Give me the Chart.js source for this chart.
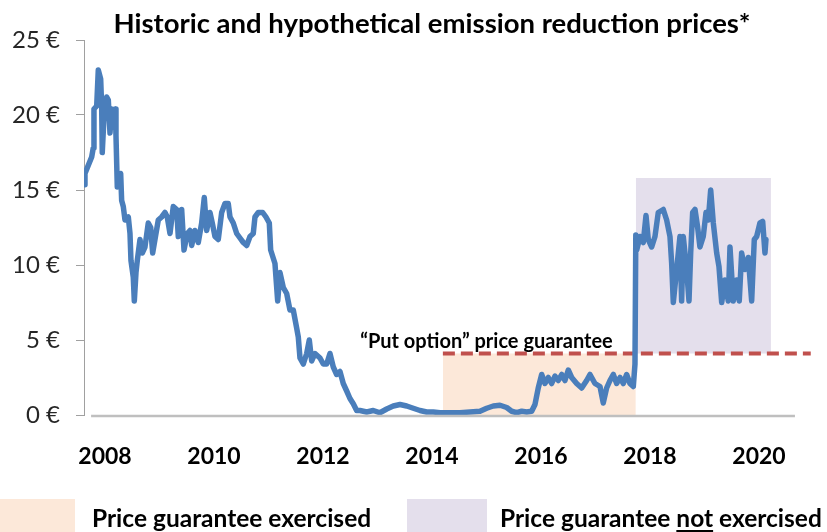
<!DOCTYPE html>
<html>
<head>
<meta charset="utf-8">
<script src="https://cdn.jsdelivr.net/npm/chart.js@4.4.1/dist/chart.umd.min.js"></script>
<style>
html,body{margin:0;padding:0;background:#fff;overflow:hidden;}
#wrap{position:relative;width:827px;height:532px;font-family:Lato,"Open Sans",sans-serif;}
#chart{position:absolute;left:0;top:0;}
#title{position:absolute;left:82px;top:9px;width:700px;text-align:center;font-weight:bold;font-size:27.5px;line-height:1;color:#000;white-space:nowrap;}
.lbox{position:absolute;top:499px;height:33px;}
.ltxt{position:absolute;top:506px;font-weight:bold;font-size:24.5px;line-height:1;color:#000;white-space:nowrap;}
.ltxt u{text-decoration-thickness:2px;text-underline-offset:3px;}
</style>
</head>
<body>
<div id="wrap">
  <canvas id="chart" width="827" height="532"></canvas>
  <div id="title">Historic and hypothetical emission reduction prices*</div>
  <div class="lbox" style="left:0;width:75px;background:#FCE8D9;"></div>
  <div class="ltxt" style="left:92px;">Price guarantee exercised</div>
  <div class="lbox" style="left:407px;width:80px;background:#E4DFEC;"></div>
  <div class="ltxt" style="left:500px;">Price guarantee <u>not</u> exercised</div>
</div>
<script>
// ---- data ----
const dates = [
 2007.615,2007.633,2007.756,2007.785,2007.798,2007.848,2007.877,2007.921,2007.939,2007.950,
 2007.982,2008.031,2008.061,2008.092,2008.123,2008.152,2008.189,2008.202,2008.226,2008.288,
 2008.306,2008.336,2008.367,2008.428,2008.459,2008.477,2008.519,2008.538,2008.569,2008.593,
 2008.642,2008.684,2008.734,2008.794,2008.839,2008.875,2008.917,2008.978,2009.040,2009.101,
 2009.143,2009.193,2009.253,2009.316,2009.345,2009.395,2009.407,2009.450,2009.510,2009.560,
 2009.591,2009.651,2009.712,2009.774,2009.822,2009.866,2009.927,2009.969,2010.018,2010.079,
 2010.141,2010.202,2010.262,2010.294,2010.354,2010.417,2010.477,2010.538,2010.600,2010.661,
 2010.721,2010.752,2010.813,2010.894,2010.954,2011.015,2011.040,2011.119,2011.169,2011.211,
 2011.272,2011.334,2011.394,2011.455,2011.517,2011.547,2011.578,2011.639,2011.701,2011.749,
 2011.793,2011.853,2011.945,2012.006,2012.068,2012.128,2012.189,2012.251,2012.312,2012.372,
 2012.435,2012.495,2012.556,2012.618,2012.679,2012.802,2012.923,2013.046,2013.169,2013.290,
 2013.413,2013.536,2013.657,2013.780,2013.903,2014.024,2014.147,2014.330,2014.514,2014.697,
 2014.881,2015.004,2015.125,2015.248,2015.371,2015.462,2015.554,2015.646,2015.738,2015.829,
 2015.890,2015.950,2016.013,2016.073,2016.134,2016.196,2016.257,2016.317,2016.380,2016.440,
 2016.501,2016.563,2016.655,2016.747,2016.838,2016.899,2016.991,2017.083,2017.143,2017.205,
 2017.266,2017.327,2017.389,2017.450,2017.510,2017.572,2017.633,2017.694,2017.725,2017.740,
 2017.756,2017.817,2017.877,2017.927,2017.969,2018.031,2018.092,2018.152,2018.244,2018.306,
 2018.367,2018.398,2018.428,2018.490,2018.550,2018.581,2018.611,2018.673,2018.716,2018.747,
 2018.783,2018.826,2018.875,2018.917,2018.978,2019.028,2019.070,2019.114,2019.162,2019.224,
 2019.266,2019.316,2019.376,2019.437,2019.468,2019.528,2019.591,2019.638,2019.682,2019.743,
 2019.804,2019.866,2019.914,2019.958,2020.018,2020.068,2020.110,2020.128
];
const prices = [
 15.35,16.1,17.2,17.8,20.4,20.6,23.0,22.4,20.6,17.5,
 19.9,21.2,21.0,18.8,20.4,19.2,20.4,18.6,15.2,16.1,
 14.3,13.9,13.0,13.2,12.1,10.3,9.2,7.6,9.5,10.3,
 11.7,10.8,11.2,12.8,12.5,10.8,11.7,13.0,13.2,13.5,
 13.2,12.1,13.9,13.7,11.9,12.1,13.7,11.0,12.1,12.3,
 11.3,12.3,11.5,12.8,14.5,12.3,13.5,12.8,11.9,11.7,
 13.5,14.1,14.1,13.2,12.8,12.1,11.8,11.5,11.3,11.9,
 12.1,13.2,13.5,13.5,13.2,12.8,11.0,10.1,7.6,9.5,
 8.5,8.1,7.0,7.0,5.8,5.2,3.8,3.4,4.1,5.0,
 3.6,4.1,3.8,3.4,3.4,4.1,3.2,2.7,2.9,2.1,
 1.6,1.1,0.75,0.3,0.3,0.2,0.3,0.15,0.4,0.6,
 0.7,0.6,0.45,0.3,0.2,0.2,0.15,0.15,0.15,0.2,
 0.25,0.45,0.6,0.65,0.5,0.25,0.15,0.25,0.2,0.25,
 0.7,1.8,2.7,2.1,2.5,2.1,2.6,2.3,2.7,2.3,
 3.0,2.5,2.1,1.8,2.3,2.7,2.1,1.9,0.8,1.8,
 2.3,2.7,2.1,2.5,2.1,2.7,2.1,1.9,3.4,12.0,
 11.0,11.9,11.5,13.3,11.7,11.2,11.9,13.5,13.7,13.0,
 11.9,10.1,7.5,9.7,11.9,7.6,11.9,9.7,7.6,10.8,
 13.5,13.7,12.5,11.2,11.9,13.5,13.0,15.0,12.8,10.8,
 9.9,7.5,9.0,7.6,11.2,7.6,9.0,7.6,10.8,9.7,
 10.5,7.6,11.7,11.9,12.8,12.9,10.8,11.7
];
const xTickYears = [2008, 2010, 2012, 2014, 2016, 2018, 2020];
const yTickValues = [0, 5, 10, 15, 20, 25];
const guaranteePrice = 4.1;
const exercisedRange = [2014.2, 2017.74];
const notExercisedRange = [2017.74, 2020.22];
const notExercisedTop = 15.8;
const guaranteeLineRange = [2014.2, 2020.95];
const xRange = [2007.615, 2020.973];
const axisLineRange = [2007.745, 2020.66];
const annotationText = '\u201CPut option\u201D price guarantee';
const annotationAt = [2015.0, 4.5];

// ---- chart ----
const priceData = dates.map((d, i) => ({x: d, y: prices[i]}));

const customDraw = {
  id: 'customDraw',
  afterDatasetsDraw(chart) {
    const {ctx, scales: {x, y}} = chart;
    ctx.save();
    ctx.strokeStyle = '#BFBFBF';
    ctx.lineWidth = 2.5;
    const y0 = y.getPixelForValue(0) + 1;
    ctx.beginPath();
    ctx.moveTo(x.getPixelForValue(axisLineRange[0]), y0);
    ctx.lineTo(x.getPixelForValue(axisLineRange[1]), y0);
    ctx.stroke();
    ctx.font = 'bold 20px Lato';
    ctx.fillStyle = '#000';
    ctx.textAlign = 'center';
    ctx.textBaseline = 'alphabetic';
    ctx.fillText(annotationText, x.getPixelForValue(annotationAt[0]), y.getPixelForValue(annotationAt[1]));
    ctx.restore();
  }
};

function build() {
  Chart.defaults.font.family = 'Lato';
  new Chart(document.getElementById('chart'), {
    type: 'line',
    data: {
      datasets: [
        {
          label: 'Price',
          data: priceData,
          borderColor: '#4A7EBB',
          borderWidth: 5.5,
          pointRadius: 0,
          tension: 0,
          borderJoinStyle: 'round',
          borderCapStyle: 'round',
          fill: false,
          order: 0
        },
        {
          label: 'Put option price guarantee',
          data: guaranteeLineRange.map(v => ({x: v, y: guaranteePrice})),
          borderColor: '#C0504D',
          borderWidth: 4,
          borderDash: [12, 6],
          pointRadius: 0,
          fill: false,
          order: 1
        },
        {
          label: 'Price guarantee exercised',
          data: exercisedRange.map(v => ({x: v, y: guaranteePrice})),
          borderWidth: 0,
          borderColor: 'rgba(0,0,0,0)',
          backgroundColor: '#FCE8D9',
          pointRadius: 0,
          fill: 'origin',
          order: 2
        },
        {
          label: 'Price guarantee not exercised',
          data: notExercisedRange.map(v => ({x: v, y: notExercisedTop})),
          borderWidth: 0,
          borderColor: 'rgba(0,0,0,0)',
          backgroundColor: '#E4DFEC',
          pointRadius: 0,
          fill: {value: guaranteePrice},
          order: 3
        }
      ]
    },
    options: {
      responsive: false,
      animation: false,
      devicePixelRatio: 1,
      layout: {padding: {top: 40, right: 15, left: 0, bottom: 0}},
      plugins: {legend: {display: false}, tooltip: {enabled: false}, title: {display: false}},
      scales: {
        x: {
          type: 'linear',
          min: xRange[0],
          max: xRange[1],
          afterBuildTicks: s => { s.ticks = xTickYears.map(v => ({value: v})); },
          afterFit: s => { s.height = 117; },
          grid: {display: false, drawTicks: false},
          border: {display: false},
          ticks: {
            callback: v => String(v),
            font: {family: 'Lato', size: 23, weight: 'bold'},
            color: '#000',
            padding: 28,
            maxRotation: 0,
            autoSkip: false
          }
        },
        y: {
          min: 0,
          max: 25,
          afterBuildTicks: s => { s.ticks = yTickValues.map(v => ({value: v})); },
          afterFit: s => { s.width = 84; },
          grid: {drawOnChartArea: false, drawTicks: true, tickLength: 8, color: '#A0A0A0'},
          border: {display: true, color: '#A0A0A0', width: 1},
          ticks: {
            callback: v => v + ' \u20AC',
            font: {family: 'Lato', size: 24},
            color: '#262626',
            padding: 16
          }
        }
      }
    },
    plugins: [customDraw]
  });
}

Promise.all([
  document.fonts.load('bold 20px Lato'),
  document.fonts.load('24px Lato')
]).then(build, build);
</script>
</body>
</html>
